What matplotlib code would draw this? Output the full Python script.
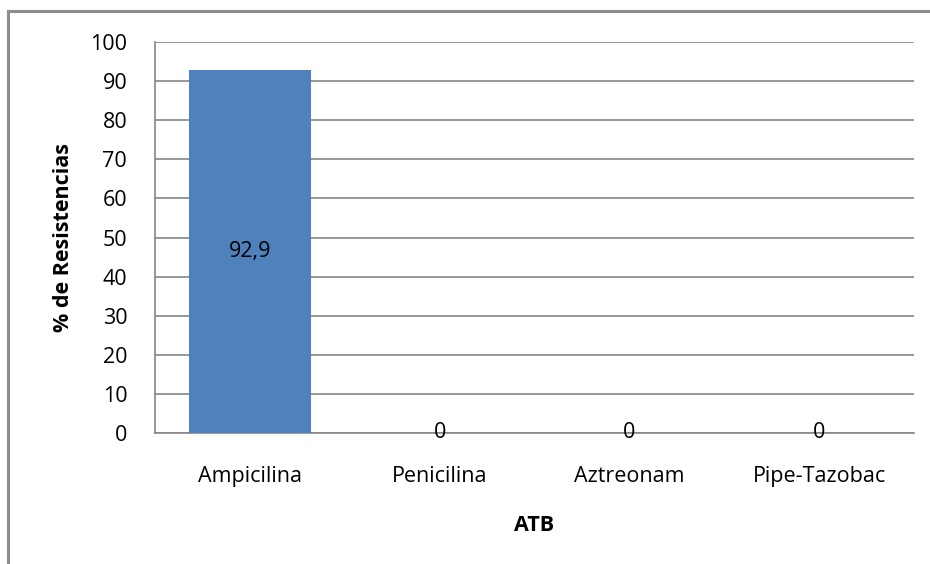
import matplotlib
matplotlib.use("Agg")
import matplotlib.pyplot as plt
from matplotlib.lines import Line2D

categories = ["Ampicilina", "Penicilina", "Aztreonam", "Pipe-Tazobac"]
resistance = [92.9, 0, 0, 0]
value_labels = ["92,9", "0", "0", "0"]
yticks = [0, 10, 20, 30, 40, 50, 60, 70, 80, 90, 100]

plt.rcParams["font.family"] = ["Open Sans", "DejaVu Sans"]
FS = 15.5

W, H = 930, 564
fig = plt.figure(figsize=(W / 100, H / 100), dpi=100)
ax = fig.add_axes([155 / W, 1 - 433 / H, (914 - 155) / W, (433 - 42) / H])

grid_col = "#868686"
x = list(range(len(categories)))
ax.bar(x, resistance, width=0.64, color="#4F81BD", zorder=3)

for xi, v, lab in zip(x, resistance, value_labels):
    ax.text(xi, v / 2, lab, ha="center", va="center", fontsize=FS,
            color="black", zorder=4)

ax.set_xlim(-0.5, len(categories) - 0.5)
ax.set_ylim(0, 100)
ax.set_yticks(yticks)
ax.set_yticklabels([str(t) for t in yticks], fontsize=FS)
ax.set_xticks(x)
ax.set_xticklabels(categories, fontsize=FS)
ax.tick_params(axis="both", length=0)
ax.tick_params(axis="y", pad=20)
ax.tick_params(axis="x", pad=24)
ax.yaxis.grid(True, color=grid_col, linewidth=1.2, zorder=0)
ax.set_axisbelow(True)

for side in ["top", "right"]:
    ax.spines[side].set_visible(False)
for side in ["left", "bottom"]:
    ax.spines[side].set_color(grid_col)
    ax.spines[side].set_linewidth(1.2)

ax.set_xlabel("ATB", fontsize=FS, fontweight="bold", labelpad=20)
ax.set_ylabel("% de Resistencias", fontsize=FS, fontweight="bold", labelpad=12)

# outer chart frame (left and top edges)
frame_col = "#8c8c8c"
fig.add_artist(Line2D([7.5 / W, 7.5 / W], [0, 1 - 11 / H], transform=fig.transFigure,
                      color=frame_col, linewidth=2.2))
fig.add_artist(Line2D([7.5 / W, 1], [1 - 11 / H, 1 - 11 / H], transform=fig.transFigure,
                      color=frame_col, linewidth=2.2))

fig.savefig("out.png", dpi=100)
